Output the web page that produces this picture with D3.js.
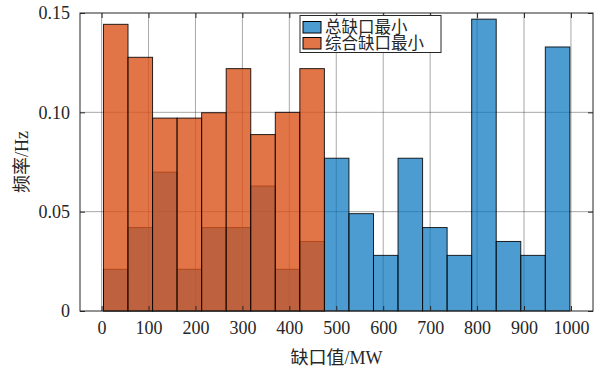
<!DOCTYPE html>
<html>
<head>
<meta charset="utf-8">
<script src="https://cdn.jsdelivr.net/npm/d3@7"></script>
<style>
  body { margin: 0; background: #fff; }
  svg text { font-family: "Liberation Serif", "Noto Sans CJK SC", serif; fill: #262626; }
</style>
</head>
<body>
<svg id="chart" width="601" height="370"></svg>
<script>
// histogram bin edges (MW)
const binEdges = [4, 56.3, 108.6, 160.9, 213.2, 265.5, 317.8, 370.1, 422.4, 474.7,
  527, 579.3, 631.6, 683.9, 736.2, 788.5, 840.8, 893.1, 945.4, 997.7]
// 总缺口最小
const totalMin = [0.021, 0.042, 0.0699, 0.021, 0.042, 0.042, 0.0629, 0.021, 0.035,
  0.0769, 0.049, 0.028, 0.0769, 0.042, 0.028, 0.1469, 0.035, 0.028, 0.1329]
// 综合缺口最小
const combinedMin = [0.1443, 0.1277, 0.0971, 0.0971, 0.0998, 0.122, 0.0888, 0.1, 0.122]

const xTicks = [0, 100, 200, 300, 400, 500, 600, 700, 800, 900, 1000]
const yTicks = [0, 0.05, 0.1, 0.15]
const yTickLabels = ['0', '0.05', '0.10', '0.15']
const seriesNames = ['总缺口最小', '综合缺口最小']

const pL = 80, pR = 593, pT = 13, pB = 311
const svg = d3.select('#chart')

const x = d3.scaleLinear().domain([-46, 1047]).range([pL, pR])
const y = d3.scaleLinear().domain([0, 0.15]).range([pB, pT])

const toBins = vals => vals.map((v, i) => ({ x0: binEdges[i], x1: binEdges[i + 1], v }))

// grid
const grid = svg.append('g').attr('stroke', '#262626').attr('stroke-opacity', 0.5).attr('stroke-width', 0.8)
grid.selectAll('.gx').data(xTicks).enter().append('line')
  .attr('x1', d => x(d)).attr('x2', d => x(d)).attr('y1', pT).attr('y2', pB)
grid.selectAll('.gy').data(yTicks.slice(1, -1)).enter().append('line')
  .attr('x1', pL).attr('x2', pR).attr('y1', d => y(d)).attr('y2', d => y(d))

const Colors = {
  blue: 'rgba(0,114,189,0.7)',
  orange: 'rgba(217,83,25,0.8)'
}

const drawBars = (data, fill) => {
  svg.append('g').selectAll('rect').data(data).enter().append('rect')
    .attr('x', d => x(d.x0))
    .attr('y', d => y(d.v))
    .attr('width', d => x(d.x1) - x(d.x0))
    .attr('height', d => y(0) - y(d.v))
    .attr('fill', fill)
    .attr('stroke', '#000')
    .attr('stroke-opacity', 0.85)
    .attr('stroke-width', 1)
}
drawBars(toBins(totalMin), Colors.blue)
drawBars(toBins(combinedMin), Colors.orange)

// axes
const tl = 5
const axBottom = svg.append('g').attr('transform', `translate(0,${pB})`)
  .call(d3.axisBottom(x).tickValues(xTicks).tickSize(-tl).tickPadding(10).tickFormat(d3.format('d')))
const axTop = svg.append('g').attr('transform', `translate(0,${pT})`)
  .call(d3.axisTop(x).tickValues(xTicks).tickSize(-tl).tickFormat(''))
const axLeft = svg.append('g').attr('transform', `translate(${pL},0)`)
  .call(d3.axisLeft(y).tickValues(yTicks).tickSize(-tl).tickPadding(10).tickFormat((d, i) => yTickLabels[i]))
const axRight = svg.append('g').attr('transform', `translate(${pR},0)`)
  .call(d3.axisRight(y).tickValues(yTicks).tickSize(-tl).tickFormat(''))

for (const a of [axBottom, axTop, axLeft, axRight]) {
  a.selectAll('.domain').remove()
  a.selectAll('.tick line').attr('stroke', '#262626')
  a.selectAll('.tick text').attr('font-size', 18).attr('fill', '#262626')
    .attr('font-family', '"Liberation Serif", serif')
}
axBottom.selectAll('.tick text').attr('dy', '0.71em')

svg.append('rect')
  .attr('x', pL).attr('y', pT).attr('width', pR - pL).attr('height', pB - pT)
  .attr('fill', 'none').attr('stroke', '#262626').attr('stroke-width', 1)

// labels
svg.append('text')
  .attr('x', (pL + pR) / 2).attr('y', 364)
  .attr('text-anchor', 'middle').attr('font-size', 18)
  .text('缺口值/MW')

svg.append('text')
  .attr('transform', `translate(28,${(pT + pB) / 2}) rotate(-90)`)
  .attr('text-anchor', 'middle').attr('font-size', 18)
  .text('频率/Hz')

// legend
const lg = svg.append('g')
lg.append('rect').attr('x', 300).attr('y', 15.5).attr('width', 141).attr('height', 37)
  .attr('fill', '#fff').attr('stroke', '#262626').attr('stroke-width', 1)
const lgColors = [Colors.blue, Colors.orange]
seriesNames.forEach((name, i) => {
  const cy = 27.5 + i * 16
  lg.append('rect').attr('x', 303).attr('y', cy - 6).attr('width', 18).attr('height', 11.5)
    .attr('fill', lgColors[i]).attr('stroke', '#000').attr('stroke-width', 1)
  lg.append('text').attr('x', 325).attr('y', cy).attr('dy', '0.36em')
    .attr('font-size', 16.5).text(name)
})
</script>
</body>
</html>
